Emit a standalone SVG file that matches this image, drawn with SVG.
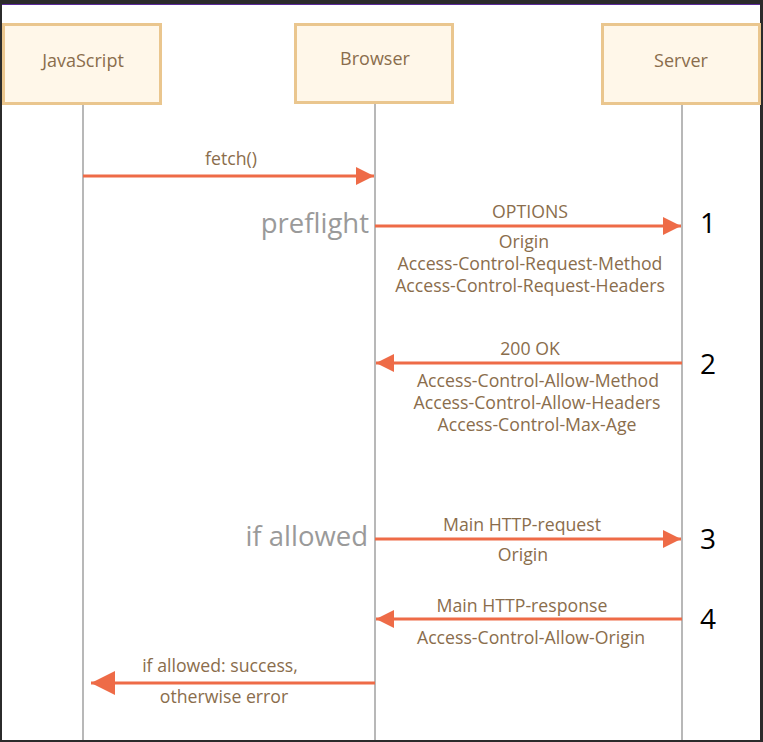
<svg xmlns="http://www.w3.org/2000/svg" width="763" height="742" viewBox="0 0 763 742">
<style>
.node rect{fill:#FFF7E9;stroke:#EAC68E;stroke-width:3}
.node text{font-family:"Open Sans","Noto Sans",sans-serif;font-size:18px;fill:#8A6D4C;text-anchor:middle}
.life{stroke:#A0A0A0;stroke-width:1.5}
.msg{stroke:#EE6B47;stroke-width:3;fill:none}
.lbl{font-family:"Open Sans","Noto Sans",sans-serif;font-size:17.7px;fill:#8A6D4C;text-anchor:middle}
.big{font-family:"Open Sans","Noto Sans",sans-serif;font-size:27.5px;fill:#9A9A9A;text-anchor:end}
.num{font-family:"Open Sans","Noto Sans",sans-serif;font-size:28px;fill:#000;text-anchor:middle}
</style>
<defs>
<marker id="ah" markerWidth="6" markerHeight="6" refX="6" refY="3" orient="auto" markerUnits="strokeWidth"><path d="M0,0 L6,3 L0,6 Z" fill="#EE6B47"/></marker>
<marker id="ahb" markerWidth="8" markerHeight="8" refX="8" refY="4" orient="auto" markerUnits="strokeWidth"><path d="M0,0 L8,4 L0,8 Z" fill="#EE6B47"/></marker>
</defs>
<rect x="0" y="0" width="763" height="742" fill="#2B2B2B"/>
<rect x="2" y="4" width="758" height="736" fill="#FFFFFF"/>
<line x1="2" y1="4.5" x2="760" y2="4.5" stroke="#5B2A9A" stroke-width="1"/>
<g id="lifelines">
<line class="life" x1="83" y1="104" x2="83" y2="740"/>
<line class="life" x1="375" y1="103" x2="375" y2="740"/>
<line class="life" x1="682" y1="104" x2="682" y2="740"/>
</g>
<g id="node-javascript" class="node"><rect x="3.5" y="24.5" width="157" height="79"/><text x="83" y="67">JavaScript</text></g>
<g id="node-browser" class="node"><rect x="295.5" y="24.5" width="157" height="78"/><text x="375" y="65">Browser</text></g>
<g id="node-server" class="node"><rect x="602.5" y="24.5" width="157" height="79"/><text x="681" y="67">Server</text></g>
<g id="connectors">
<line class="msg" x1="83" y1="176" x2="374" y2="176" marker-end="url(#ah)"/>
<line class="msg" x1="375" y1="226" x2="681" y2="226" marker-end="url(#ah)"/>
<line class="msg" x1="682" y1="363" x2="376" y2="363" marker-end="url(#ah)"/>
<line class="msg" x1="375" y1="539" x2="681" y2="539" marker-end="url(#ah)"/>
<line class="msg" x1="682" y1="619" x2="376" y2="619" marker-end="url(#ah)"/>
<line class="msg" x1="375" y1="683" x2="91" y2="683" marker-end="url(#ahb)"/>
</g>
<g id="labels">
<text class="lbl" x="231" y="165">fetch()</text>
<text class="lbl" x="530" y="218">OPTIONS</text>
<text class="lbl" x="524" y="248">Origin</text>
<text class="lbl" x="530" y="270">Access-Control-Request-Method</text>
<text class="lbl" x="530" y="292">Access-Control-Request-Headers</text>
<text class="lbl" x="530" y="355">200 OK</text>
<text class="lbl" x="538" y="387">Access-Control-Allow-Method</text>
<text class="lbl" x="537" y="409">Access-Control-Allow-Headers</text>
<text class="lbl" x="537" y="431">Access-Control-Max-Age</text>
<text class="lbl" x="522" y="531">Main HTTP-request</text>
<text class="lbl" x="523" y="561">Origin</text>
<text class="lbl" x="522" y="612">Main HTTP-response</text>
<text class="lbl" x="531" y="644">Access-Control-Allow-Origin</text>
<text class="lbl" x="220" y="672">if allowed: success,</text>
<text class="lbl" x="224" y="703">otherwise error</text>
<text class="big" x="369" y="233">preflight</text>
<text class="big" x="368" y="546">if allowed</text>
<text class="num" x="708" y="233">1</text>
<text class="num" x="708" y="374">2</text>
<text class="num" x="708" y="549">3</text>
<text class="num" x="708" y="629">4</text>
</g>
</svg>
